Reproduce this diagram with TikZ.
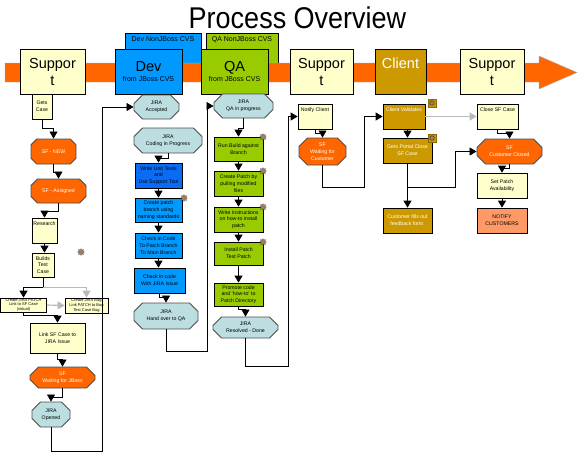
\documentclass[tikz,border=0pt]{standalone}
\usepackage{fontspec}
\setmainfont{Liberation Sans}
\usepackage{graphicx}
\usepackage{tikz}
\usetikzlibrary{
  arrows.meta,
  positioning,
  shapes.misc,
  shapes.geometric
}
\definecolor{suppyel}{HTML}{FFFFCC}
\definecolor{devblue}{HTML}{0099FF}
\definecolor{unitblue}{HTML}{0A6CF5}
\definecolor{qagreen}{HTML}{99CC00}
\definecolor{clgold}{HTML}{CC9900}
\definecolor{sforange}{HTML}{FF6600}
\definecolor{jiracyan}{HTML}{BCDEE0}
\definecolor{notifsal}{HTML}{FF9966}
\newcommand{\flowfont}{\fontsize{5.2}{6.8}\selectfont}
\newcommand{\tinyflow}{\fontsize{4}{4.6}\selectfont}
\newcommand{\bannerfont}{\fontsize{14.5}{17}\selectfont}
\newcommand{\backfont}{\fontsize{7}{8}\selectfont}

\begin{document}
\begin{tikzpicture}[
  x=1pt, y=-1pt,
  box/.style={draw, line width=0.7pt, fill=suppyel, inner sep=0.5pt, align=center, font=\flowfont},
  oct/.style={chamfered rectangle, chamfered rectangle xsep=5pt, draw=gray!60!black,
    line width=0.9pt, inner sep=0.5pt, align=center, font=\flowfont},
  band/.style={draw, line width=0.7pt, minimum height=45pt, inner sep=1pt, align=center, font=\bannerfont},
  arr/.style={-{Triangle[width=8pt,length=7pt]}, line width=0.8pt},
  grayarr/.style={arr, draw=gray!55, line width=1.2pt},
  gear/.style={star, star points=8, star point ratio=1.7, inner sep=0pt, minimum size=7pt,
    fill=gray!50!brown, draw=gray!30!black, line width=0.2pt},
  gearbox/.style={fill=clgold, draw=clgold!70!black, minimum size=8pt, inner sep=0pt},
]
  \useasboundingbox (0,0) rectangle (580,453);

  % Title
  \node[font=\fontsize{30}{32}\selectfont] (title) at (297.5,18) {\scalebox{0.9}[1]{Process Overview}};

  % Banner arrow and phases
  \node[band, fill=devblue, minimum width=76pt, minimum height=30pt,
    label={[font=\backfont, anchor=north, inner sep=0pt, yshift=-4pt]north:Dev NonJBoss CVS}] (devcvs) at (163,48) {};
  \node[band, fill=qagreen, minimum width=72pt, minimum height=30pt,
    label={[font=\backfont, anchor=north, inner sep=0pt, yshift=-4pt]north:QA NonJBoss CVS}] (qacvs) at (242,48) {};
  \draw[fill=sforange, draw=gray!60] (5,63) -- (539,63) -- (539,56) -- (577,72.5)
    -- (539,89) -- (539,82) -- (5,82) -- cycle;
  \node[band, fill=suppyel, minimum width=65pt] (sup1) at (52.5,71.5) {Suppor\\t};
  \node[band, fill=devblue, minimum width=67pt] (dev) at (148.5,71.5) {Dev\\[-7pt]{\backfont from JBoss CVS}};
  \node[band, fill=qagreen, minimum width=67pt] (qa) at (234.5,71.5) {QA\\[-7pt]{\backfont from JBoss CVS}};
  \node[band, fill=suppyel, minimum width=63pt] (sup2) at (321.5,71.5) {Suppor\\t};
  \node[band, fill=clgold, text=white, minimum width=51pt] (client) at (400.5,71.5) {Client\\\mbox{}};
  \node[band, fill=suppyel, minimum width=64pt] (sup3) at (492,71.5) {Suppor\\t};

  % Support: case intake
  \node[box, minimum width=20pt, minimum height=25pt] (gets) at (42,106.5) {Gets\\Case};
  \node[oct, fill=sforange, text=white, minimum width=45pt, minimum height=25pt] (sfnew) at (53.5,151.5) {SF - NEW};
  \node[oct, fill=sforange, text=white, minimum width=55pt, minimum height=24pt] (sfassigned) at (58.5,191) {SF - Assigned};
  \node[box, minimum width=25pt, minimum height=25pt] (research) at (44.5,230.5) {Research\\\mbox{}\\\mbox{}};
  \node[box, minimum width=22pt, minimum height=24pt] (builds) at (43,265) {Builds\\Test\\Case};
  \node[box, font=\tinyflow, minimum width=46pt, minimum height=14pt] (jpatch) at (23.5,305)
    {Create JIRA PATCH\\Link to SF Case\\(virtual)};
  \node[box, font=\tinyflow, minimum width=43pt, minimum height=15pt] (jbug) at (86.5,305.5)
    {Create JIRA Bug\\Link PATCH to Bug\\Test Case Bug};
  \node[box, minimum width=55pt, minimum height=30pt] (linksf) at (57.5,338) {Link SF Case to\\JIRA Issue};
  \node[oct, fill=sforange, text=white, minimum width=65pt, minimum height=21pt] (sfwait) at (62.5,377.5) {SF\\Waiting for JBoss};
  \node[oct, fill=jiracyan, minimum width=38pt, minimum height=25pt] (opened) at (51,414.5) {JIRA\\Opened};
  \node[gear] (g1) at (81,252) {};

  % Dev column
  \node[oct, fill=jiracyan, minimum width=45pt, minimum height=24pt] (accepted) at (156.5,107) {JIRA\\Accepted};
  \node[oct, fill=jiracyan, minimum width=68pt, minimum height=25pt] (coding) at (168,140.5) {JIRA\\Coding in Progress};
  \node[box, fill=unitblue, minimum width=47pt, minimum height=25pt] (unit) at (158.5,175.5)
    {Write Unit Tests\\and\\Use Support Tool};
  \node[box, fill=devblue, minimum width=47pt, minimum height=24pt] (patchbr) at (158.5,210)
    {Create patch\\branch using\\naming standards};
  \node[box, fill=devblue, minimum width=47pt, minimum height=25pt] (checkin) at (158.5,245.5)
    {Check in Code\\To Patch Branch\\To Main Branch};
  \node[box, fill=devblue, minimum width=51pt, minimum height=25pt] (checkjira) at (159.5,280.5)
    {Check in code\\With JIRA Issue};
  \node[oct, fill=jiracyan, minimum width=64pt, minimum height=26pt] (handover) at (166,316) {JIRA\\Hand over to QA};
  \node[gear] (g2) at (184,198) {};

  % QA column
  \node[oct, fill=jiracyan, minimum width=59pt, minimum height=24pt] (qaprog) at (243.5,106) {JIRA\\QA in progress};
  \node[box, fill=qagreen, minimum width=49pt, minimum height=24pt] (runbuild) at (238.5,149) {Run Build against\\Branch};
  \node[box, fill=qagreen, minimum width=49pt, minimum height=25pt] (crpatch) at (238.5,183.5)
    {Create Patch by\\pulling modified\\files};
  \node[box, fill=qagreen, minimum width=49pt, minimum height=25pt] (writeinst) at (238.5,219.5)
    {Write Instructions\\on how-to install\\patch};
  \node[box, fill=qagreen, minimum width=49pt, minimum height=23pt] (install) at (238.5,253.5) {Install Patch\\Test Patch};
  \node[box, fill=qagreen, minimum width=49pt, minimum height=23pt] (promote) at (238.5,294.5)
    {Promote code\\and `how-to' to\\Patch Directory};
  \node[oct, fill=jiracyan, minimum width=65pt, minimum height=21pt] (resolved) at (245.5,327.5) {JIRA\\Resolved - Done};
  \node[gear] (g3) at (263,137) {};
  \node[gear] (g4) at (263,171) {};
  \node[gear] (g5) at (263,207) {};
  \node[gear] (g6) at (263,242) {};

  % Support and client
  \node[box, minimum width=34pt, minimum height=25pt] (notify) at (315,116.5) {Notify Client\\\mbox{}\\\mbox{}};
  \node[oct, fill=sforange, text=white, minimum width=47pt, minimum height=27pt] (sfcust) at (322.5,151.5)
    {SF\\Waiting for\\Customer};
  \node[box, fill=clgold, text=white, minimum width=42pt, minimum height=25pt] (validates) at (404,116.5)
    {Client Validates\\\mbox{}\\\mbox{}};
  \node[box, fill=clgold, text=white, minimum width=49pt, minimum height=25pt] (portal) at (407.5,150.5)
    {Gets Portal Close\\SF Case};
  \node[box, fill=clgold, text=white, minimum width=49pt, minimum height=25pt] (feedback) at (407.5,220.5)
    {Customer fills out\\feedback form.};
  \node[gearbox] (gb1) at (432,103) {};
  \node[gear, minimum size=6pt] (g7) at (432,103) {};
  \node[gearbox] (gb2) at (432,138) {};
  \node[gear, minimum size=6pt] (g8) at (432,138) {};

  \node[box, minimum width=41pt, minimum height=25pt] (close) at (497.5,116.5) {Close SF Case\\\mbox{}\\\mbox{}};
  \node[oct, fill=sforange, text=white, minimum width=65pt, minimum height=25pt] (custclosed) at (509.5,151.5)
    {SF\\Customer Closed};
  \node[box, minimum width=50pt, minimum height=25pt] (avail) at (502,185.5) {Set Patch\\Availability};
  \node[box, fill=notifsal, minimum width=50pt, minimum height=25pt] (notifyc) at (502,220.5) {NOTIFY\\CUSTOMERS};

  % Connectors
  \draw[arr] (gets.south) -- ++(0,9) -| (sfnew.north);
  \draw[arr] (sfnew.south) -- ++(0,8) -| (sfassigned.north);
  \draw[arr] (sfassigned.south) -- ++(0,8) -| (research.north);
  \draw[arr] (research.south) -- (research.south |- builds.north);
  \draw[line width=0.8pt] (builds.south) -- ++(0,10) coordinate (fork);
  \draw[arr] (fork) -| (jpatch.north);
  \draw[grayarr] (fork) -| (jbug.north);
  \draw[grayarr] (jpatch.east) -- (jbug.west);
  \draw[arr] (jpatch.south) -- ++(0,3) -| (linksf.north);
  \draw[arr] (linksf.south) -- ++(0,6) -| (sfwait.north);
  \draw[arr] (sfwait.south) -- ++(0,9) -| (opened.north);
  \coordinate (loopa) at (102,451);
  \draw[arr] (opened.south) |- (loopa) |- (accepted.west);

  \draw[arr] (coding.south) -- ++(0,5) -| (unit.north);
  \draw[arr] (unit.south) -- (patchbr.north);
  \draw[arr] (patchbr.south) -- (checkin.north);
  \draw[arr] (checkin.south) -- (checkin.south |- checkjira.north);
  \draw[arr] (checkjira.south) -- ++(0,4) -| (handover.north);
  \coordinate (loopb) at (207,351);
  \draw[arr] (handover.south) |- (loopb) |- (qaprog.west);

  \draw[arr] (qaprog.south) -- ++(0,10) -| (runbuild.north);
  \draw[arr] (runbuild.south) -- (crpatch.north);
  \draw[arr] (crpatch.south) -- (writeinst.north);
  \draw[arr] (writeinst.south) -- (install.north);
  \draw[arr] (install.south) -- (promote.north);
  \draw[arr] (promote.south) -- ++(0,3) -| (resolved.north);
  \coordinate (loopc) at (288,366);
  \draw[arr] (resolved.south) |- (loopc) |- (notify.west);

  \draw[arr] (notify.south) -- ++(0,4) -| (sfcust.north);
  \coordinate (loopd) at (364,187);
  \draw[arr] (sfcust.south) |- (loopd) |- (validates.west);
  \draw[arr] (validates.south -| portal.north) -- (portal.north);
  \draw[arr] (portal.south) -- (feedback.north);
  \coordinate (loope) at (455,187);
  \draw[arr] (portal.south |- loope) -- (loope) |- (custclosed.west);
  \draw[grayarr] (validates.east) -- (close.west);

  \draw[arr] (close.south) -- ++(0,4) -| (custclosed.north);
  \draw[arr] (custclosed.south) -- ++(0,4) -| (avail.north);
  \draw[arr] (avail.south) -- (notifyc.north);
\end{tikzpicture}
\end{document}
